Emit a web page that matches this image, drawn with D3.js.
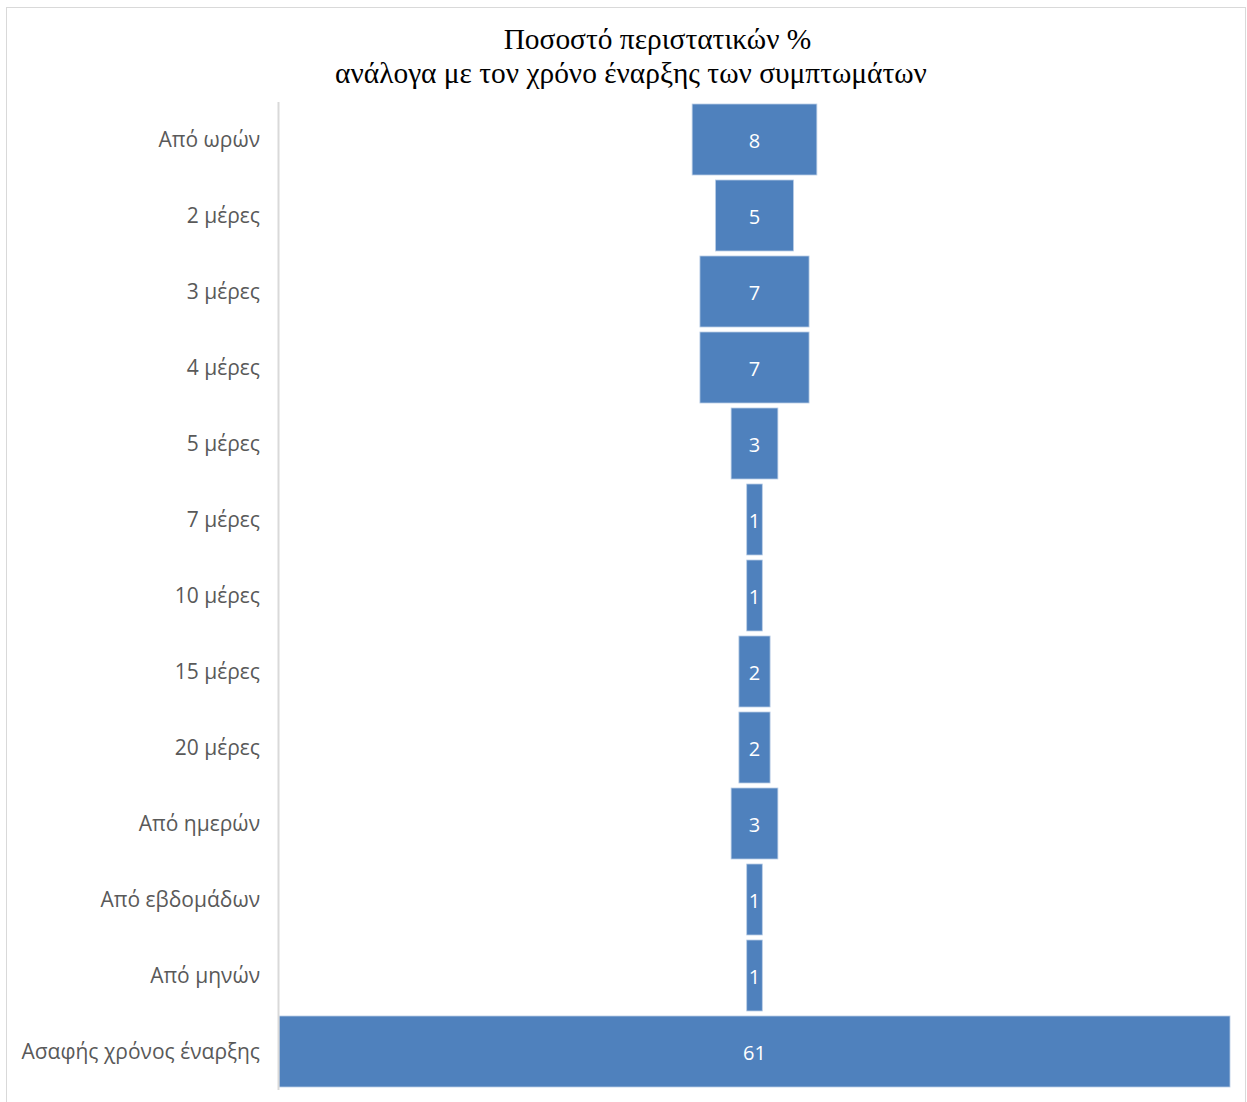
<!DOCTYPE html>
<html>
<head>
<meta charset="utf-8">
<script src="https://cdn.jsdelivr.net/npm/d3@7"></script>
<style>
  body { margin: 0; background: #fff; }
  svg { display: block; }
</style>
</head>
<body>
<svg id="chart" width="1247" height="1102"></svg>
<script>
// Onset of symptoms: share of cases (%) per category
const categories = [
  "Από ωρών", "2 μέρες", "3 μέρες", "4 μέρες", "5 μέρες", "7 μέρες",
  "10 μέρες", "15 μέρες", "20 μέρες", "Από ημερών", "Από εβδομάδων",
  "Από μηνών", "Ασαφής χρόνος έναρξης"
];
const values = [8, 5, 7, 7, 3, 1, 1, 2, 2, 3, 1, 1, 61];
const titleLines = [
  "Ποσοστό περιστατικών %",
  "ανάλογα με τον χρόνο έναρξης των συμπτωμάτων"
];

const svg = d3.select("#chart");

// chart frame
svg.append("rect")
  .attr("x", 6.5).attr("y", 7.5)
  .attr("width", 1239).attr("height", 1100)
  .attr("fill", "#fff").attr("stroke", "#d9d9d9").attr("stroke-width", 1);

const plot = { left: 278, right: 1230, top: 101.5, bottom: 1089.5 };
const centerX = (plot.left + 1 + plot.right) / 2;

const y = d3.scaleBand()
  .domain(categories)
  .range([plot.top, plot.bottom])
  .paddingInner(5 / 76)
  .paddingOuter(2.5 / 76);

// bar width scale: the largest value spans the full plot width
const w = d3.scaleLinear()
  .domain([0, d3.max(values)])
  .range([0, plot.right - plot.left - 1]);

const data = categories.map((c, i) => ({ c, v: values[i] }));

// funnel bars, centred horizontally
svg.append("g").selectAll("rect")
  .data(data).join("rect")
  .attr("x", d => centerX - w(d.v) / 2)
  .attr("y", d => y(d.c))
  .attr("width", d => w(d.v))
  .attr("height", y.bandwidth())
  .attr("fill", "#4f81bd")
  .attr("stroke", "#b9cde5")
  .attr("stroke-width", 0.8);

// value labels
svg.append("g").selectAll("text")
  .data(data).join("text")
  .attr("x", centerX)
  .attr("y", d => y(d.c) + y.bandwidth() / 2 + 1)
  .attr("dy", "0.35em")
  .attr("text-anchor", "middle")
  .attr("fill", "#fff")
  .style("font-family", "'Open Sans', 'Noto Sans', sans-serif")
  .style("font-size", "20px")
  .text(d => d.v);

// category axis
const axis = d3.axisLeft(y).tickSize(0).tickPadding(18);
const gAxis = svg.append("g")
  .attr("transform", `translate(${plot.left},0)`)
  .call(axis);
gAxis.select(".domain").attr("stroke", "#d9d9d9").attr("stroke-width", 2);
gAxis.selectAll("text")
  .attr("fill", "#595959")
  .attr("dy", "0.38em")
  .style("font-family", "'Open Sans', 'Noto Sans', sans-serif")
  .style("font-size", "21px");

// title
const title = svg.append("g")
  .style("font-family", "'Liberation Serif', 'Times New Roman', serif")
  .style("font-size", "29.4px")
  .attr("fill", "#000");
title.append("text").attr("x", 657.5).attr("y", 48.5).attr("text-anchor", "middle").text(titleLines[0]);
title.append("text").attr("x", 631).attr("y", 82.5).attr("text-anchor", "middle").text(titleLines[1]);
</script>
</body>
</html>
